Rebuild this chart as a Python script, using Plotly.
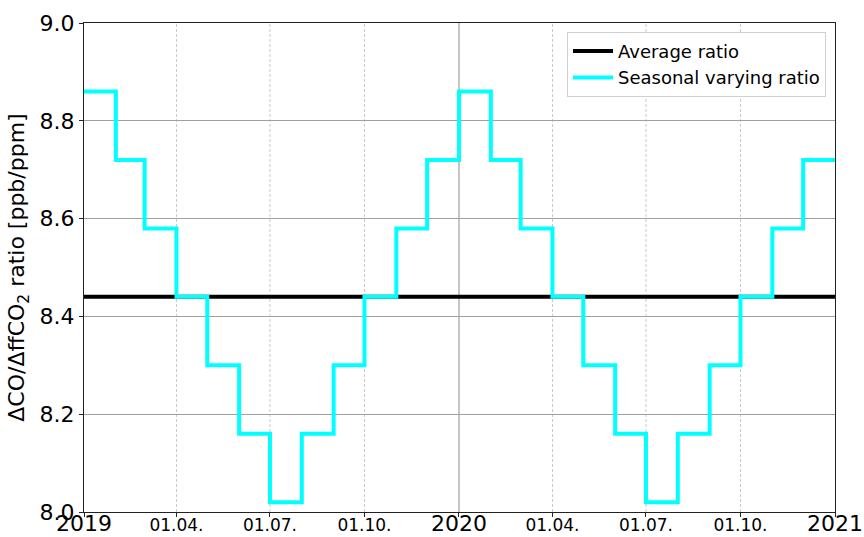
import plotly.graph_objects as go

# Data
month_starts = [f"{y}-{m:02d}-01" for y in (2019, 2020) for m in range(1, 13)] + ["2021-01-01"]
seasonal_ratio_2019 = [8.86, 8.72, 8.58, 8.44, 8.30, 8.16, 8.02, 8.16, 8.30, 8.44, 8.58, 8.72]
seasonal_ratio_2020 = [8.86, 8.72, 8.58, 8.44, 8.30, 8.16, 8.02, 8.16, 8.30, 8.44, 8.58, 8.72]
seasonal_values = seasonal_ratio_2019 + seasonal_ratio_2020 + [seasonal_ratio_2020[-1]]
average_ratio = 8.44
avg_x = ["2019-01-01", "2021-01-01"]
avg_y = [average_ratio, average_ratio]

tick_vals = ["2019-01-01", "2019-04-01", "2019-07-01", "2019-10-01", "2020-01-01",
             "2020-04-01", "2020-07-01", "2020-10-01", "2021-01-01"]
tick_labels = ["2019", "01.04.", "01.07.", "01.10.", "2020", "01.04.", "01.07.", "01.10.", "2021"]
minor_grid = ["2019-04-01", "2019-07-01", "2019-10-01", "2020-04-01", "2020-07-01", "2020-10-01"]
major_grid = ["2020-01-01"]

ticktext = [t if len(t) == 4 else f'<span style="font-size:17px">{t}</span>' for t in tick_labels]

fig = go.Figure()
fig.add_trace(go.Scatter(x=avg_x, y=avg_y, mode="lines", name="Average ratio",
                         line=dict(color="black", width=4)))
fig.add_trace(go.Scatter(x=month_starts, y=seasonal_values, mode="lines",
                         name="Seasonal varying ratio",
                         line=dict(color="#00ffff", width=4, shape="hv")))

shapes = []
for d in minor_grid:
    shapes.append(dict(type="line", xref="x", yref="paper", x0=d, x1=d, y0=0, y1=1,
                       line=dict(color="#c8c8c8", width=1, dash="3px,2px"), layer="below"))
for d in major_grid:
    shapes.append(dict(type="line", xref="x", yref="paper", x0=d, x1=d, y0=0, y1=1,
                       line=dict(color="#a0a0a0", width=1.2), layer="below"))

fig.update_layout(
    width=864, height=537,
    margin=dict(l=84, r=29, t=23, b=25),
    paper_bgcolor="white", plot_bgcolor="white",
    font=dict(family="DejaVu Sans", color="black", size=22),
    shapes=shapes,
    showlegend=True,
    legend=dict(x=0.988, y=0.982, xanchor="right", yanchor="top",
                bgcolor="white", bordercolor="#d0d0d0", borderwidth=1,
                font=dict(size=18), tracegroupgap=0, itemwidth=40),
    xaxis=dict(range=["2019-01-01", "2021-01-01"], tickvals=tick_vals, ticktext=ticktext,
               showgrid=False, showline=True, mirror=True, linecolor="#222", linewidth=1,
               ticks="outside", ticklen=4, tickcolor="#222", tickfont=dict(size=22),
               zeroline=False, automargin=False, ticklabelstandoff=-12),
    yaxis=dict(range=[8.0, 9.0], tickvals=[8.0, 8.2, 8.4, 8.6, 8.8, 9.0],
               ticktext=["8.0", "8.2", "8.4", "8.6", "8.8", "9.0"],
               showgrid=True, gridcolor="#a0a0a0", gridwidth=1.2,
               showline=True, mirror=True, linecolor="#222", linewidth=1,
               ticks="outside", ticklen=4, tickcolor="#222", tickfont=dict(size=22),
               zeroline=False, automargin=False,
               title=dict(text="ΔCO/ΔffCO<sub>2</sub> ratio [ppb/ppm]", font=dict(size=22), standoff=8)),
)

fig.write_html("out.html", config={"displayModeBar": False},
               post_script="document.body.style.margin='0';document.body.style.overflow='hidden';")
